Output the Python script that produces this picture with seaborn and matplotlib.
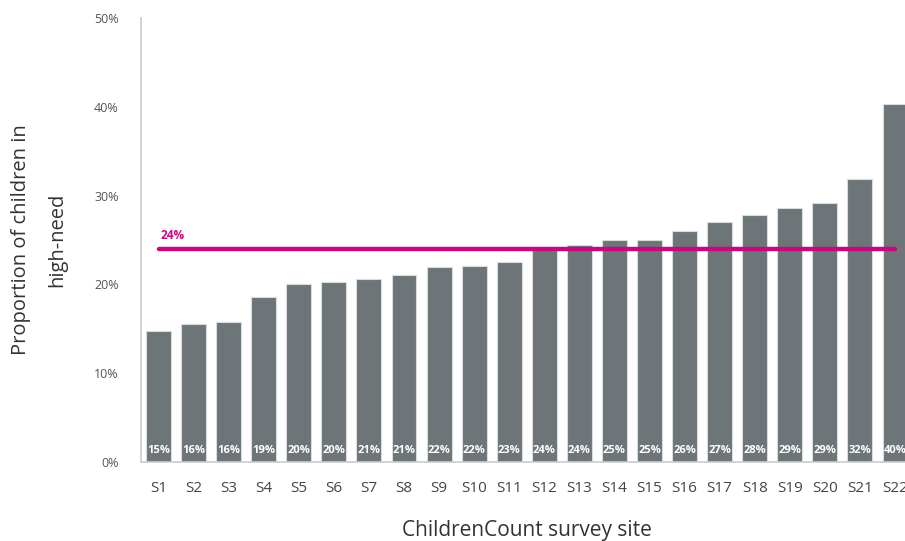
import matplotlib
matplotlib.use("Agg")
import matplotlib.pyplot as plt
import seaborn as sns
import pandas as pd
from matplotlib.ticker import FuncFormatter

sites = [f"S{i}" for i in range(1, 23)]
values = [14.75, 15.5, 15.8, 18.6, 20.0, 20.3, 20.6, 21.1, 22.0, 22.1, 22.5,
          23.9, 24.4, 25.0, 25.0, 26.0, 27.0, 27.8, 28.6, 29.2, 31.9, 40.3]
labels = ["15%", "16%", "16%", "19%", "20%", "20%", "21%", "21%", "22%", "22%", "23%",
          "24%", "24%", "25%", "25%", "26%", "27%", "28%", "29%", "29%", "32%", "40%"]
average = 24.0
average_label = "24%"
yticks = [0, 10, 20, 30, 40, 50]

sns.set_theme(style="white")
plt.rcParams['font.family'] = ['Open Sans', 'DejaVu Sans']

df = pd.DataFrame({"site": sites, "value": values})

fig = plt.figure(figsize=(9.05, 5.41), dpi=100)
ax = fig.add_axes([141/905, 1 - 462/541, (912.5 - 141)/905, (462 - 18)/541])

bar_color = "#6E7578"
sns.barplot(data=df, x="site", y="value", color=bar_color, ax=ax, width=0.71,
            edgecolor="#D9DCDD", linewidth=0.8, saturation=1)

for i, lab in enumerate(labels):
    ax.text(i, 1.25, lab, ha="center", va="center", color="white",
            fontsize=8, fontweight="bold")

mag = "#C8077E"
ax.plot([0, len(sites) - 1], [average, average], color=mag, linewidth=3.2,
        solid_capstyle="round", zorder=5)
ax.text(0.05, average + 0.75, average_label, color=mag, fontsize=8.5,
        fontweight="bold", ha="left", va="bottom")

ax.set_ylim(0, 50)
ax.set_xlim(-0.5, len(sites) - 0.5)
ax.set_yticks(yticks)
ax.yaxis.set_major_formatter(FuncFormatter(lambda v, p: f"{int(v)}%"))
ax.tick_params(axis="y", length=0, pad=16, labelsize=9, labelcolor="#555555")
ax.tick_params(axis="x", length=0, pad=14, labelsize=11, labelcolor="#444444")

for s in ["top", "right"]:
    ax.spines[s].set_visible(False)
ax.spines["left"].set_color("#CCCCCC")
ax.spines["bottom"].set_color("#CCCCCC")
ax.spines["left"].set_linewidth(1.2)
ax.spines["bottom"].set_linewidth(1.2)

ax.set_xlabel("ChildrenCount survey site", fontsize=15, color="#333333", labelpad=17)
ax.set_ylabel("Proportion of children in\nhigh-need", fontsize=14.5, color="#333333",
              labelpad=19, linespacing=2.1)

fig.savefig("out.png", dpi=100)
